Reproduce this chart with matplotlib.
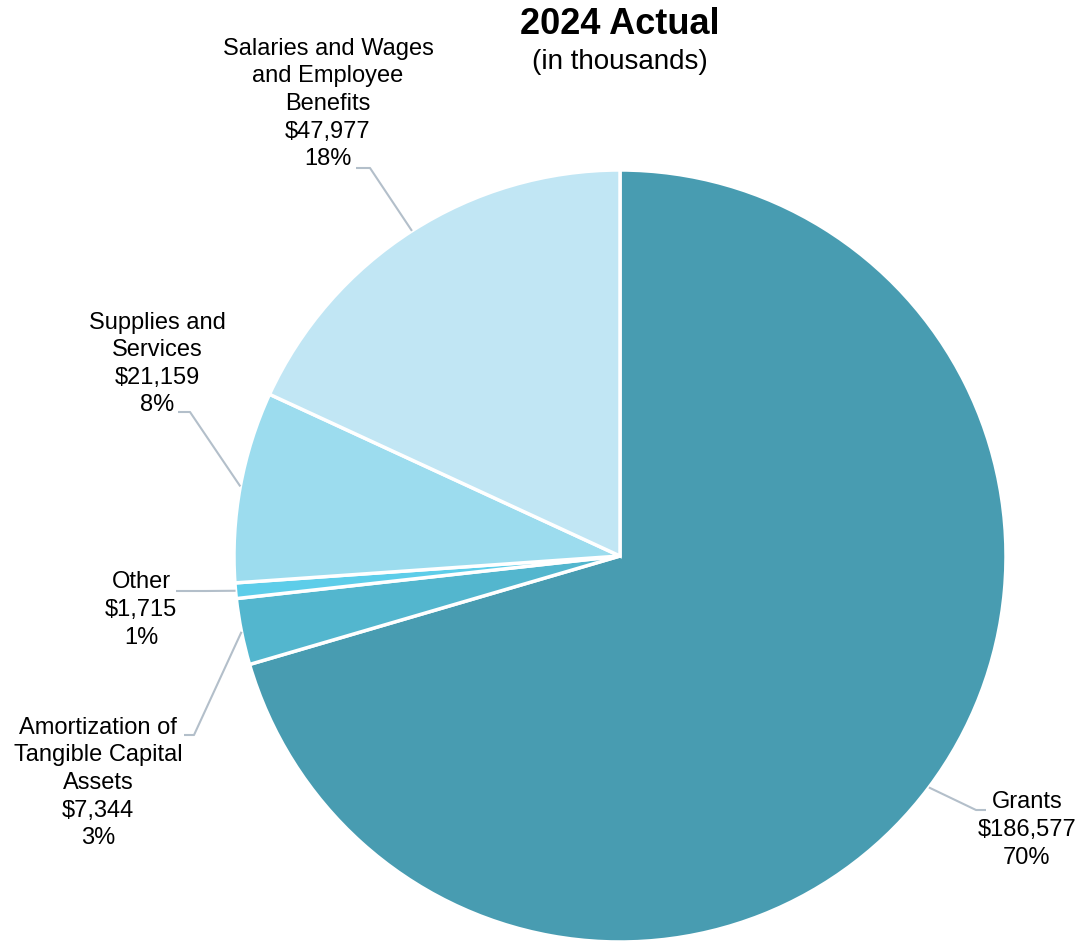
import numpy as np
import matplotlib.pyplot as plt

plt.rcParams['font.family'] = ['Liberation Sans', 'DejaVu Sans']

# data
categories = ["Grants", "Amortization of\nTangible Capital\nAssets", "Other",
              "Supplies and\nServices", "Salaries and Wages\nand Employee\nBenefits"]
values = [186577, 7344, 1715, 21159, 47977]
colors = ["#489CB1", "#53B6CE", "#5DCDE9", "#9CDCEE", "#C1E6F4"]

W, H = 1082, 944
CX, CY, R = 620, 556, 386  # pie centre / radius in pixels


def px(x, y):
    # pixel position -> data coords of the pie axes
    return (x - CX) / R, (CY - y) / R


fig = plt.figure(figsize=(W / 100, H / 100), dpi=100)
ax = fig.add_axes([(CX - R) / W, (H - CY - R) / H, 2 * R / W, 2 * R / H])

wedges, _ = ax.pie(values, colors=colors, startangle=90, counterclock=False,
                   radius=1, wedgeprops=dict(edgecolor="white", linewidth=2.5))
ax.set_xlim(-1, 1)
ax.set_ylim(-1, 1)
ax.set_aspect("equal")
ax.axis("off")

total = sum(values)
# label layout: elbow of leader line, end of leader, text centre (pixels)
layout = [
    ((976, 810), (986, 810), (1027, 830)),
    ((194, 735), (184, 735), (98, 783)),
    ((205, 591), (176, 591), (141, 610)),
    ((190, 412), (178, 412), (157, 364)),
    ((370, 168), (356, 168), (328, 104)),
]

for w, cat, v, (elbow, end, txt) in zip(wedges, categories, values, layout):
    ang = np.deg2rad((w.theta1 + w.theta2) / 2)
    sx, sy = np.cos(ang), np.sin(ang)
    ex, ey = px(*elbow)
    nx, ny = px(*end)
    ax.plot([sx, ex, nx], [sy, ey, ny], color="#B3BFCA", lw=1.5,
            clip_on=False, solid_capstyle="butt")
    tx, ty = px(*txt)
    label = f"{cat}\n${v:,}\n{v / total:.0%}"
    ax.text(tx, ty, label, ha="center", va="center", fontsize=17,
            linespacing=1.33, color="black")

fig.text(620 / W, 1 - 24 / H, "2024 Actual", ha="center", va="center",
         fontsize=26, fontweight="bold")
fig.text(620 / W, 1 - 62 / H, "(in thousands)", ha="center", va="center",
         fontsize=20)

fig.savefig("out.png", dpi=100, facecolor="white")
